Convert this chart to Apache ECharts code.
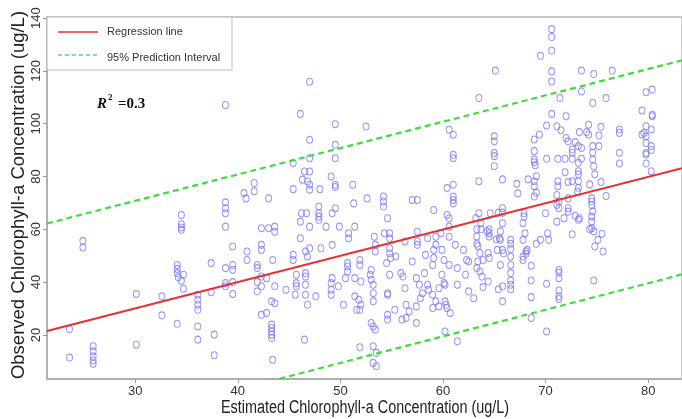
<!DOCTYPE html>
<html><head><meta charset="utf-8">
<script src="https://cdn.jsdelivr.net/npm/echarts@6/dist/echarts.min.js"></script>
<style>html,body{margin:0;padding:0;background:#fff}#c{width:682px;height:419px}</style>
</head><body><div id="c"></div>
<script>
// [estimated, observed] chlorophyll-a pairs (ug/L)
const observedPoints = [
[23.6,22.2],[23.6,11.4],[24.9,55.6],[24.9,53.1],[25.9,15.7],[25.9,13.8],[25.9,11.9],[25.9,10.3],[25.9,9.1],[30.1,35.5],[30.1,16.3],[32.6,34.6],[32.6,27.4],[34.1,24.2],[34.1,46.5],[34.1,45.0],[34.1,43.4],[34.2,41.8],[34.5,65.4],[34.5,61.9],[34.5,60.7],[34.5,59.8],[34.7,42.8],[34.7,37.5],[34.5,40.5],[36.1,35.2],[36.1,33.3],[36.1,31.4],[36.1,29.5],[36.1,23.2],[36.1,18.2],[37.4,47.2],[37.4,36.2],[37.7,20.1],[37.7,12.3],[38.8,70.2],[38.8,68.0],[38.8,66.1],[38.8,61.0],[38.8,45.3],[38.8,39.6],[38.8,38.4],[39.5,53.5],[39.5,46.5],[39.5,44.7],[39.5,40.0],[39.5,35.5],[40.8,71.7],[40.9,51.6],[40.9,48.4],[41.9,46.5],[41.9,45.3],[41.9,40.0],[41.9,36.5],[42.3,60.4],[42.3,54.1],[42.3,52.2],[42.3,42.1],[42.3,38.4],[42.3,27.6],[42.8,28.3],
[38.8,107.1],[41.6,77.5],[41.6,74.4],[40.6,73.7],
[47.0,115.9],[46.1,103.7],[49.5,99.8],[52.5,98.9],[47.0,93.9],[49.5,92.0],[49.5,86.9],[45.4,85.1],[47.0,86.9],[46.5,81.9],[47.0,81.9],[46.3,78.8],[46.8,78.1],[47.0,76.9],[47.0,75.0],[45.4,75.2],[48.0,75.2],[49.1,80.0],[49.5,76.9],[49.5,76.0],[51.2,76.9],[60.6,97.7],[61.0,95.8],[61.0,88.2],[61.0,86.9],[61.0,76.9],[60.4,75.6],
[43.0,71.7],[51.3,69.8],[52.6,71.7],[54.2,72.4],[54.2,70.5],[54.2,68.6],[57.0,71.1],[57.5,71.1],[59.1,67.3],[61.0,72.4],[61.0,71.1],[61.0,69.8],[46.2,66.1],[46.7,66.1],[46.1,62.9],[47.9,68.6],[47.9,66.1],[47.9,64.8],[47.9,63.6],[49.5,68.0],[49.2,66.1],[47.0,61.0],[48.6,61.0],[49.9,61.0],[51.4,61.0],[54.6,64.2],[60.4,65.4],[60.6,64.2],[60.6,61.0],[43.0,60.4],[43.6,61.0],[43.6,59.1],[46.1,56.6],[47.0,52.8],[46.6,51.6],[46.8,49.7],[45.4,50.3],[45.4,48.4],[43.4,48.4],[42.8,41.5],[49.2,54.1],[48.1,52.8],[50.8,58.5],[50.8,56.6],[50.7,47.2],[50.7,45.9],[50.7,44.0],[50.5,41.5],[51.4,41.5],[51.9,48.4],[51.9,46.5],[52.0,40.2],[53.3,57.2],[53.4,51.6],[54.3,58.5],[54.8,58.5],[54.8,56.6],[54.8,52.8],[54.8,50.9],[54.9,49.1],[55.4,49.7],[54.5,47.2],[53.4,54.1],[56.3,55.4],[57.5,59.1],[57.5,55.4],[57.5,54.1],[57.0,47.8],[58.3,50.3],[58.5,56.6],[59.3,57.2],[59.3,54.1],[59.1,52.2],[59.1,49.1],[59.0,46.5],[59.8,58.5],[59.9,52.2],[60.1,48.4],[60.6,57.2],[60.6,46.5],[61.2,54.1],[62.0,52.2],[62.3,48.4],[62.5,47.8],[61.4,45.3],[45.7,42.8],[45.7,39.6],[45.7,38.4],[46.6,43.4],[46.6,42.1],[46.6,39.0],[46.6,35.2],[45.6,35.2],[44.7,37.1],[43.6,38.4],[43.3,32.7],[43.6,32.0],[46.8,31.4],[47.6,34.6],[49.2,41.5],[49.1,39.6],[49.1,37.1],[49.1,35.2],[49.8,38.4],[50.3,31.4],[51.4,34.6],[51.8,33.3],[52.0,31.4],[51.6,29.5],[51.9,29.5],[53.0,44.6],[53.0,40.9],[53.2,39.0],[53.2,35.8],[53.2,32.7],[52.9,42.8],[54.6,35.8],[54.6,35.2],[54.8,42.8],[55.9,43.4],[56.1,42.1],[56.3,37.7],[56.4,31.4],[56.7,28.9],[56.4,26.4],[56.0,25.8],[55.3,29.5],[54.6,27.6],[54.6,25.8],[53.0,24.5],[53.2,23.2],[53.4,22.0],[57.4,41.5],[57.7,39.0],[58.0,35.8],[57.8,33.9],[58.2,43.4],[58.5,39.0],[58.6,37.1],[59.0,35.2],[59.0,30.2],[59.3,32.7],[59.6,37.7],[59.9,42.8],[60.1,39.6],[60.2,39.0],[60.2,32.7],[60.3,31.4],[60.4,30.2],[60.7,28.3],[59.6,30.8],[61.4,39.0],[62.2,42.8],[62.5,36.5],[63.0,33.9],[57.4,30.8],[57.4,24.5],[43.3,23.9],[43.3,22.6],[43.3,21.3],[43.3,20.1],[43.3,18.8],[46.5,18.2],[43.4,10.6],[51.9,15.3],[53.2,15.7],[53.5,13.2],[53.2,9.4],[53.5,8.1],[60.2,21.3],[61.4,17.6],
[70.6,135.8],[70.6,132.8],[70.6,127.7],[69.5,125.7],[70.6,119.8],[70.6,116.0],[65.1,120.1],[73.5,120.1],[74.7,118.8],[76.5,120.1],[63.5,109.7],[71.4,109.7],[73.5,112.2],[75.9,109.7],[74.6,107.8],[79.8,111.9],[80.4,112.9],[70.6,103.7],[72.0,102.8],[79.4,105.0],[80.4,103.4],[80.4,102.8],[70.1,99.3],[71.1,99.0],[71.5,97.5],[74.2,99.6],[74.0,96.8],[74.2,95.9],[75.4,98.8],[75.2,95.5],[73.3,96.8],[65.0,95.2],[65.0,93.3],[65.0,88.9],[65.0,87.7],[65.0,83.9],[63.5,78.2],[65.8,78.9],[67.2,77.2],[68.3,78.9],[68.9,94.0],[69.4,95.9],[68.9,89.6],[68.9,86.4],[68.9,85.4],[69.0,84.3],[69.1,80.1],[68.9,78.2],[68.9,76.3],[70.1,86.7],[71.2,86.7],[71.9,86.7],[72.6,86.7],[71.2,78.2],[71.2,76.3],[71.9,81.6],[72.0,94.6],[72.2,93.3],[72.6,90.2],[72.6,89.0],[72.9,93.0],[73.2,91.5],[73.5,90.8],[73.2,85.2],[73.2,82.0],[73.2,80.8],[73.2,78.2],[73.2,75.7],[72.6,78.2],[72.2,77.9],[73.5,86.7],[74.6,91.5],[74.6,89.0],[74.6,86.4],[74.7,83.9],[74.8,80.8],[74.3,77.0],[75.2,91.5],[75.4,77.9],[77.2,97.8],[77.2,96.5],[77.2,89.0],[77.2,84.9],[79.8,99.0],[79.8,95.2],[79.8,92.7],[79.8,88.9],[79.8,88.3],[79.8,84.9],[79.4,95.9],[79.6,96.5],[80.3,97.8],[80.3,91.5],[80.3,90.0],[80.3,82.0],
[67.3,73.6],[68.9,72.4],[69.1,73.9],[71.1,73.0],[71.3,70.5],[71.1,69.2],[71.3,68.0],[72.2,71.7],[72.2,68.0],[72.2,66.7],[73.1,74.3],[74.5,71.7],[74.5,70.5],[74.5,69.2],[75.9,72.6],[63.5,66.1],[64.6,66.1],[65.4,66.3],[65.8,66.3],[65.8,68.0],[63.2,64.2],[63.7,62.3],[63.3,60.0],[63.7,60.0],[64.5,60.0],[64.5,58.5],[64.5,57.3],[64.3,59.2],[65.8,62.3],[65.6,59.2],[65.5,56.6],[67.9,66.1],[67.9,64.8],[67.8,62.3],[68.0,58.5],[70.0,66.1],[71.1,62.9],[71.8,64.2],[72.9,65.1],[73.3,64.2],[73.2,63.6],[74.5,64.8],[74.5,62.9],[74.5,60.4],[74.3,60.0],[74.7,59.2],[74.6,66.7],[74.8,53.5],[75.1,56.0],[75.5,58.3],[75.6,51.6],[72.6,58.1],[70.2,58.5],[70.3,56.0],[69.5,56.0],[69.1,54.5],[67.8,56.0],[68.1,51.6],[68.2,52.2],[68.1,50.7],[66.6,56.0],[66.6,54.5],[66.6,52.5],[66.6,49.7],[66.6,46.5],[66.6,43.4],[66.6,40.6],[66.6,39.0],[66.6,37.3],[65.8,52.2],[65.9,50.9],[65.3,52.2],[65.2,56.2],[65.6,56.0],[65.6,46.5],[63.3,57.3],[63.4,53.7],[63.3,54.5],[63.6,51.0],[63.4,47.8],[63.9,48.4],[63.3,45.3],[63.6,44.0],[63.8,42.1],[64.4,40.2],[63.9,38.1],[67.8,48.4],[68.6,46.2],[67.8,49.7],[68.6,40.6],[68.6,34.3],[68.6,26.4],[65.8,38.4],[65.4,37.3],[65.8,32.7],[70.1,39.4],[70.1,21.3],[71.3,44.6],[71.3,43.6],[71.3,41.5],[71.3,36.8],[71.3,34.6],[71.3,33.6],[74.7,40.6],[64.4,51.0],[64.5,49.1]
];
const regressionLine = [[21.4, 21.5], [83.3, 83.1]];
const upperPI = [[21.4, 62.2], [83.3, 124.0]];
const lowerPI = [[21.4, -19.4], [83.3, 42.9]];
const xTicks = [30, 40, 50, 60, 70, 80];
const yTicks = [20, 40, 60, 80, 100, 120, 140];
const xRange = [21.4, 83.3];
const yRange = [3.3, 140.4];

const chart = echarts.init(document.getElementById('c'), null, {renderer: 'canvas'});
const font = '"Liberation Sans", Arial, sans-serif';
chart.setOption({
  animation: false,
  backgroundColor: '#fff',
  grid: {left: 47, right: -10, top: 17, bottom: 40, show: true, borderColor: '#b8b8b8', borderWidth: 1.5, backgroundColor: 'transparent'},
  xAxis: {
    type: 'value', min: xRange[0], max: xRange[1],
    axisLine: {show: true, onZero: false, lineStyle: {color: '#a8a8a8', width: 1.5}},
    axisTick: {show: true, length: 4, customValues: xTicks, lineStyle: {color: '#999'}},
    axisLabel: {customValues: xTicks, margin: 6, fontSize: 13, color: '#333', fontFamily: font},
    splitLine: {show: false}
  },
  yAxis: {
    type: 'value', min: yRange[0], max: yRange[1],
    axisLine: {show: true, onZero: false, lineStyle: {color: '#a8a8a8', width: 1.5}},
    axisTick: {show: true, length: 4, customValues: yTicks, lineStyle: {color: '#999'}},
    axisLabel: {customValues: yTicks, rotate: 90, margin: 4, fontSize: 13, color: '#333', fontFamily: font},
    splitLine: {show: false}
  },
  series: [
    {type: 'scatter', data: observedPoints, symbol: 'circle', symbolSize: [6, 7], z: 2,
     itemStyle: {color: 'rgba(0,0,0,0)', borderColor: '#7c7cf2', borderWidth: 1}},
    {type: 'line', data: regressionLine, symbol: 'none', z: 3, clip: true,
     lineStyle: {color: '#e83030', width: 2}},
    {type: 'line', data: upperPI, symbol: 'none', z: 3, clip: true,
     lineStyle: {color: '#3fdc3f', width: 2.2, type: [6, 4]}},
    {type: 'line', data: lowerPI, symbol: 'none', z: 3, clip: true,
     lineStyle: {color: '#3fdc3f', width: 2.2, type: [6, 4]}}
  ],
  graphic: [
    {type: 'rect', z: 10, shape: {x: 47, y: 17, width: 185, height: 53},
     style: {fill: '#fff', stroke: '#bdbdbd', lineWidth: 1}},
    {type: 'line', z: 11, shape: {x1: 58, y1: 32, x2: 98, y2: 32}, style: {stroke: '#e83030', lineWidth: 1.6}},
    {type: 'line', z: 11, shape: {x1: 58, y1: 55, x2: 98, y2: 55}, style: {stroke: '#55d89a', lineWidth: 1.6, lineDash: [4, 3]}},
    {type: 'text', z: 11, x: 107, y: 32, style: {text: 'Regression line', fontSize: 11, fontFamily: font, fill: '#333', verticalAlign: 'middle'}},
    {type: 'text', z: 11, x: 107, y: 58, style: {text: '95% Prediction Interval', fontSize: 11, fontFamily: font, fill: '#333', verticalAlign: 'middle'}},
    {type: 'text', z: 11, x: 97, y: 104, style: {text: 'R', font: 'italic bold 15px "Liberation Serif", "Times New Roman", serif', fill: '#111', verticalAlign: 'middle'}},
    {type: 'text', z: 11, x: 108, y: 98, style: {text: '2', font: 'bold 9px "Liberation Serif", "Times New Roman", serif', fill: '#111', verticalAlign: 'middle'}},
    {type: 'text', z: 11, x: 118, y: 104, style: {text: '=0.3', font: 'bold 15px "Liberation Serif", "Times New Roman", serif', fill: '#111', verticalAlign: 'middle'}},
    {type: 'text', z: 11, x: 365, y: 408, scaleX: 0.8, style: {text: 'Estimated Chlorophyll-a Concentration (ug/L)', fontSize: 18, fontFamily: font, fill: '#222', align: 'center', verticalAlign: 'middle'}},
    {type: 'text', z: 11, x: 19, y: 195, rotation: Math.PI / 2, style: {text: 'Observed Chlorophyll-a Concentration (ug/L)', fontSize: 18.5, fontFamily: font, fill: '#222', align: 'center', verticalAlign: 'middle'}}
  ]
});
</script></body></html>
